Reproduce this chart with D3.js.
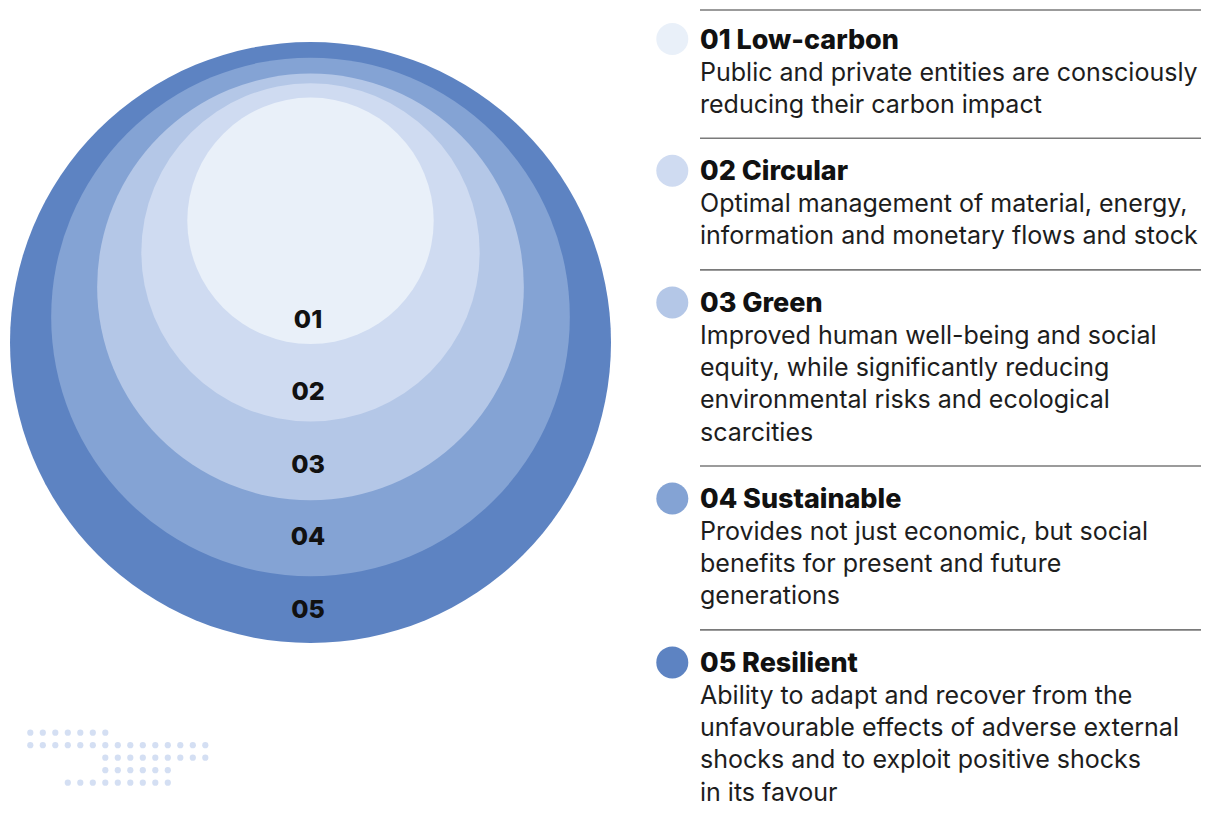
<!DOCTYPE html>
<html>
<head>
<meta charset="utf-8">
<script src="https://cdn.jsdelivr.net/npm/d3@7"></script>
<style>
  html, body { margin: 0; padding: 0; background: #ffffff; }
  svg { display: block; }
</style>
</head>
<body>
<svg id="chart" width="1206" height="820"></svg>
<script>
// ---------------- data ----------------
const levels = ["01", "02", "03", "04", "05"];
const names = ["Low-carbon", "Circular", "Green", "Sustainable", "Resilient"];
const descriptions = [
  ["Public and private entities are consciously", "reducing their carbon impact"],
  ["Optimal management of material, energy,", "information and monetary flows and stock"],
  ["Improved human well-being and social", "equity, while significantly reducing", "environmental risks and ecological", "scarcities"],
  ["Provides not just economic, but social", "benefits for present and future", "generations"],
  ["Ability to adapt and recover from the", "unfavourable effects of adverse external", "shocks and to exploit positive shocks", "in its favour"]
];
const colors = ["#e9f0f9", "#cfdbf1", "#b4c7e7", "#84a3d4", "#5d83c2"];
// relative size of each nested circle (% of the outer circle radius)
const ringSize = [41, 56.3, 71, 86.3, 100];
// vertical offset of each circle's centre (% of outer radius, negative = up)
const ringShift = [-40.5, -30, -18.5, -8.5, 0];
// decorative dot pattern: [row, firstCol, lastCol]
const dotRows = [[0, 0, 6], [1, 0, 14], [2, 6, 14], [3, 6, 11], [4, 3, 11]];

// ---------------- drawing ----------------
const svg = d3.select("#chart");
const cx = 310.5, cy = 342.5, R = 300.5;
const rScale = d3.scaleLinear().domain([0, 100]).range([0, R]);
const fam = "Inter, 'Open Sans', sans-serif";

const rings = levels.map((l, i) => ({ l, i, r: rScale(ringSize[i]), y: cy + rScale(ringShift[i]) }));
svg.append("g").selectAll("circle")
  .data(rings.slice().reverse())
  .join("circle")
  .attr("cx", cx)
  .attr("cy", d => d.y)
  .attr("r", d => d.r)
  .attr("fill", d => colors[d.i]);

// circle labels
const labelY = d3.scaleLinear().domain([0, 4]).range([327.5, 617.5]);
svg.append("g").selectAll("text")
  .data(levels)
  .join("text")
  .attr("x", 308)
  .attr("y", (d, i) => labelY(i))
  .attr("text-anchor", "middle")
  .attr("font-family", fam)
  .attr("font-weight", 800)
  .attr("font-size", 25)
  .attr("fill", "#111")
  .text(d => d);

// dots
const dx = d3.scaleLinear().domain([0, 14]).range([30.3, 205.3]);
const dy = d3.scaleLinear().domain([0, 4]).range([732.7, 782.7]);
const dots = [];
dotRows.forEach(([row, a, b]) => { for (let c = a; c <= b; c++) dots.push({ row, c }); });
svg.append("g").selectAll("circle")
  .data(dots)
  .join("circle")
  .attr("cx", d => dx(d.c))
  .attr("cy", d => dy(d.row))
  .attr("r", 3.1)
  .attr("fill", "#d4dff3");

// ---------- legend ----------
function fitSize(text, weight, target) {
  const t = svg.append("text").attr("font-family", fam).attr("font-weight", weight)
    .attr("font-size", 20).text(text);
  const w = t.node().getComputedTextLength();
  t.remove();
  return 20 * target / w;
}
const bodySize = fitSize(descriptions[0][0], 400, 498);
const titleSize = fitSize(levels[0] + " " + names[0], 800, 199);

const lx = 700, rx = 1201;
const legend = svg.append("g");
let y = 10;
levels.forEach((l, i) => {
  legend.append("line").attr("x1", lx).attr("x2", rx).attr("y1", y).attr("y2", y)
    .attr("stroke", "#7a7a7a").attr("stroke-width", 1.6);
  const tb = y + (i === 0 ? 38.5 : 42);
  legend.append("circle").attr("cx", 672.3).attr("cy", tb - 9.5).attr("r", 16).attr("fill", colors[i]);
  legend.append("text").attr("x", lx).attr("y", tb)
    .attr("font-family", fam).attr("font-weight", 800).attr("font-size", titleSize)
    .attr("fill", "#111").text(l + " " + names[i]);
  const lines = descriptions[i];
  let by = tb;
  lines.forEach((s, j) => {
    by = tb + 32 + j * 32.2;
    legend.append("text").attr("x", lx).attr("y", by)
      .attr("font-family", fam).attr("font-weight", 400).attr("font-size", bodySize)
      .attr("fill", "#1d1d1d").text(s);
  });
  y = by + 25.5;
});
</script>
</body>
</html>
